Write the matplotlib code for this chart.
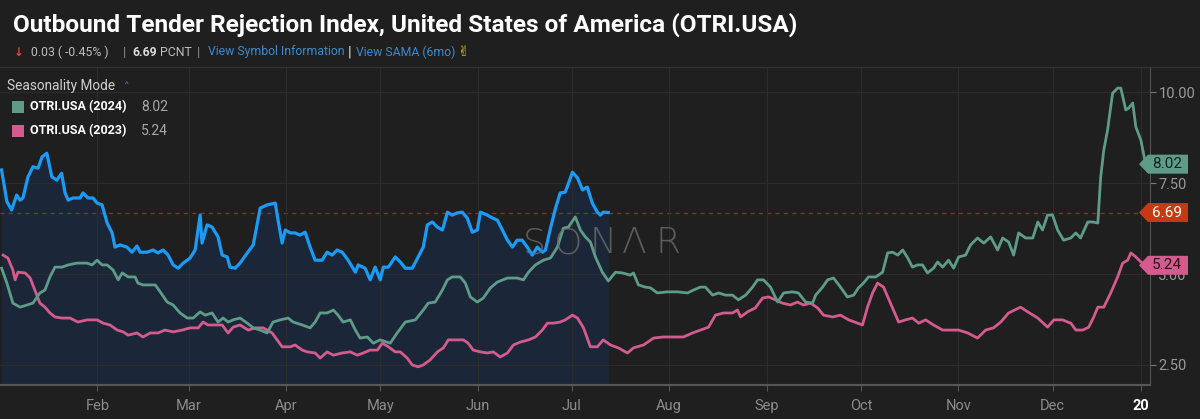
import matplotlib
matplotlib.use("Agg")
import matplotlib.pyplot as plt
from matplotlib import transforms
from matplotlib.patches import Polygon

# ---------------- data (day of year, value) ----------------
cur_days = [0.5, 2.2, 3.7, 5.3, 6.4, 7.3, 8.9, 10.5, 12.1, 13.4, 14.9, 16.5, 18.1, 19.6, 20.7, 21.7,
            23.2, 25.5, 26.4, 28.0, 29.6, 30.9, 32.5, 34.1, 35.7, 36.6, 38.2, 40.4, 42.0, 43.6, 44.6,
            46.8, 48.7, 50.3, 51.9, 53.5, 55.1, 56.7, 58.3, 60.5, 62.1, 63.7, 64.3, 65.9, 67.5, 69.4,
            70.7, 72.3, 73.2, 74.8, 76.4, 78.7, 80.6, 82.8, 85.0, 87.6, 88.5, 89.8, 90.8, 92.4, 93.9,
            95.5, 97.1, 98.7, 100.3, 102.5, 104.1, 105.7, 107.3, 108.9, 110.8, 113.1, 114.0, 116.2,
            117.8, 119.4, 121.0, 122.0, 123.6, 125.8, 127.4, 129.0, 131.2, 133.1, 134.7, 136.0, 137.6,
            139.2, 140.8, 142.4, 143.9, 145.5, 147.1, 148.7, 150.3, 151.9, 152.9, 155.1, 156.7, 158.3,
            159.9, 161.5, 163.1, 164.6, 166.2, 167.8, 169.4, 171.0, 172.6, 173.6, 175.2, 176.8, 178.3,
            179.9, 182.2, 183.8, 185.4, 186.9, 188.5, 190.1, 191.1, 192.0, 193.6]
cur_vals = [7.86, 6.99, 6.76, 7.17, 7.03, 7.09, 7.67, 7.95, 7.91, 8.22, 8.32, 7.67, 7.58, 7.77, 7.23, 7.03,
            7.09, 7.09, 7.23, 7.09, 7.09, 6.95, 6.90, 6.40, 6.13, 5.74, 5.80, 5.74, 5.60, 5.77, 5.60,
            5.60, 5.66, 5.58, 5.66, 5.52, 5.25, 5.16, 5.30, 5.44, 5.66, 6.62, 5.85, 6.35, 6.29, 6.02,
            5.52, 5.47, 5.19, 5.16, 5.30, 5.58, 5.80, 6.81, 6.90, 6.95, 6.48, 5.85, 6.21, 6.13, 6.13,
            6.07, 6.15, 5.74, 5.38, 5.38, 5.60, 5.52, 5.66, 5.60, 5.38, 5.05, 5.25, 5.16,
            4.84, 5.19, 4.84, 5.19, 5.19, 5.47, 5.33, 5.16, 5.16, 5.47, 5.74, 6.35, 6.43,
            6.29, 6.21, 6.70, 6.62, 6.68, 6.70, 6.54, 6.15, 6.21, 6.70, 6.62, 6.54, 6.48,
            6.21, 5.93, 5.74, 5.93, 5.93, 5.74, 5.52, 5.74, 5.60, 5.66, 6.26, 6.81, 7.23,
            7.25, 7.80, 7.64, 7.31, 7.39, 6.95, 6.70, 6.62, 6.70, 6.69]

y2024_days = [0.5, 2.2, 4.1, 6.4, 8.6, 10.5, 12.7, 14.3, 15.9, 17.5, 19.7, 21.7, 24.5, 27.7, 29.3, 30.9,
              32.5, 34.1, 36.0, 37.6, 38.9, 40.8, 43.0, 43.9, 45.5, 47.1, 49.4, 51.0, 53.2, 55.1, 57.3,
              59.6, 61.5, 63.7, 65.3, 67.5, 69.4, 71.0, 72.6, 74.2, 76.4, 78.7, 80.6, 82.8, 85.0, 86.9,
              89.2, 91.7, 93.3, 96.2, 98.7, 100.3, 101.9, 104.1, 106.1, 107.6, 109.2, 111.5, 113.1,
              114.6, 116.9, 118.8, 121.0, 124.2, 126.4, 129.0, 132.2, 134.7, 136.3, 138.5, 140.8,
              142.4, 143.9, 146.5, 148.1, 149.7, 151.9, 153.8, 156.1, 158.3, 161.5, 164.6, 166.6,
              168.2, 170.4, 172.9, 175.2, 177.4, 179.3, 180.9, 183.1, 184.7, 186.3, 187.9, 189.5,
              191.7, 193.6, 195.9, 198.1, 200.6, 201.6, 203.2, 205.4, 207.0, 209.2, 212.4, 215.6,
              218.8, 220.7, 222.9, 224.5, 226.8, 228.7, 230.9, 233.1, 235.0, 237.3, 239.5, 241.1,
              243.0, 245.2, 247.5, 249.4, 252.2, 254.1, 256.4, 258.6, 259.6, 261.8, 263.4, 265.3,
              267.5, 269.7, 271.7, 273.2, 274.8, 276.4, 278.7, 280.9, 282.5, 284.1, 285.7, 287.3,
              288.9, 290.4, 292.0, 293.6, 295.2, 297.1, 298.4, 300.0, 301.9, 303.5, 305.1, 307.3,
              308.9, 311.1, 313.1, 315.3, 317.5, 319.1, 321.0, 322.6, 324.2, 326.4, 328.7, 330.3,
              331.8, 333.4, 335.0, 336.6, 338.5, 340.8, 342.4, 343.9, 346.2, 347.8, 349.4, 350.3,
              351.3, 352.5, 354.1, 355.7, 356.7, 358.3, 359.2, 360.5, 361.5, 363.1, 364.6]
y2024_vals = [5.16, 4.75, 4.20, 4.09, 4.15, 4.20, 4.48, 4.56, 4.92, 5.19, 5.19, 5.25, 5.30, 5.30, 5.25, 5.38,
              5.25, 5.25, 5.11, 4.84, 5.03, 4.92, 4.92, 4.75, 4.70, 4.70, 4.70, 4.51, 4.23, 4.15, 3.93,
              3.79, 3.79, 3.96, 3.87, 3.93, 3.68, 3.79, 3.68, 3.74, 3.79, 3.65, 3.52, 3.46, 3.38, 3.68,
              3.74, 3.79, 3.68, 3.60, 3.52, 3.68, 3.93, 3.93, 4.01, 3.87, 3.68, 3.74, 3.46,
              3.24, 3.27, 3.10, 3.19, 3.10, 3.38, 3.68, 3.74, 4.01, 4.20, 4.23, 4.56,
              4.84, 4.92, 4.92, 4.75, 4.37, 4.23, 4.34, 4.62, 4.78, 4.89, 4.89, 4.84,
              5.05, 5.25, 5.38, 5.44, 5.74, 6.26, 6.29, 6.57, 6.21, 6.02, 5.88, 5.47,
              5.05, 4.81, 5.05, 5.03, 4.97, 5.03, 4.70, 4.64, 4.62, 4.48, 4.51, 4.51,
              4.48, 4.56, 4.64, 4.64, 4.42, 4.48, 4.42, 4.42, 4.29, 4.42, 4.64, 4.84,
              4.84, 4.64, 4.23, 4.48, 4.51, 4.48, 4.23, 4.20, 4.42, 4.64, 4.84, 4.89,
              4.64, 4.37, 4.42, 4.62, 4.75, 4.92, 4.92, 5.05, 5.58, 5.60, 5.52, 5.66,
              5.44, 5.19, 5.25, 5.25, 5.03, 5.16, 5.33, 5.19, 5.38, 5.16, 5.47, 5.52,
              5.80, 5.99, 5.85, 6.02, 5.66, 5.99, 5.88, 5.52, 6.13, 5.99, 5.99, 6.43,
              6.21, 6.62, 6.62, 6.21, 5.93, 5.99, 6.13, 5.99, 6.43, 6.43, 6.40, 7.66,
              8.41, 8.96, 9.97, 10.11, 10.11, 9.51, 9.56, 9.70, 9.04, 8.68, 8.02]

y2023_days = [1.0, 2.5, 4.1, 4.8, 5.7, 8.0, 9.6, 11.1, 12.7, 14.3, 15.9, 17.5, 19.7, 22.3, 24.8, 27.7,
              30.9, 32.8, 35.0, 37.3, 39.2, 40.8, 43.6, 45.5, 47.8, 50.3, 52.5, 55.1, 58.0, 60.5, 63.1,
              64.6, 66.2, 68.5, 70.7, 72.6, 74.2, 76.4, 79.0, 81.2, 83.8, 86.6, 88.2, 89.8, 92.4, 93.9,
              96.2, 97.8, 100.3, 101.9, 104.1, 106.1, 108.9, 111.5, 113.7, 115.6, 117.8, 120.1, 121.7,
              123.6, 125.8, 127.4, 129.6, 131.2, 133.1, 134.7, 136.9, 139.2, 141.1, 142.7, 144.9,
              147.5, 149.0, 150.6, 152.9, 155.1, 157.0, 159.2, 161.5, 163.4, 165.6, 168.2, 170.4,
              172.6, 174.2, 176.1, 178.3, 179.9, 182.2, 183.8, 185.7, 187.9, 190.1, 192.0, 194.3,
              196.8, 199.7, 201.6, 204.8, 208.0, 211.1, 214.3, 217.5, 220.4, 222.9, 225.5, 227.7,
              230.3, 233.1, 234.7, 235.7, 237.9, 240.4, 242.7, 244.6, 246.8, 249.0, 251.6, 253.8,
              255.7, 258.0, 260.2, 262.1, 265.0, 267.5, 270.1, 272.9, 274.5, 276.1, 277.7, 279.3,
              281.2, 283.4, 286.0, 288.2, 290.4, 292.4, 294.6, 297.1, 300.0, 302.5, 305.1, 308.0,
              311.1, 313.7, 316.2, 318.5, 321.0, 324.8, 327.1, 330.3, 333.4, 335.4, 338.2, 339.8,
              340.8, 342.4, 344.6, 346.5, 348.1, 349.4, 351.3, 353.5, 355.7, 357.3, 358.9, 359.9,
              361.5, 363.1, 364.6]
y2023_vals = [5.52, 5.44, 5.11, 4.84, 5.05, 5.03, 4.89, 4.56, 4.20, 4.09, 3.93, 3.82, 3.79, 3.79, 3.68, 3.74,
              3.74, 3.65, 3.60, 3.46, 3.41, 3.32, 3.38, 3.27, 3.38, 3.38, 3.46, 3.41, 3.46, 3.52, 3.52,
              3.68, 3.60, 3.60, 3.60, 3.38, 3.54, 3.60, 3.46, 3.52, 3.52, 3.38, 3.19, 3.00, 3.00, 3.05,
              2.91, 2.86, 2.83, 2.69, 2.86, 2.77, 2.83, 2.86, 2.77, 2.83, 2.91, 2.91, 3.10,
              3.00, 2.86, 2.86, 2.69, 2.50, 2.45, 2.50, 2.64, 2.86, 2.97, 3.19, 3.19,
              3.19, 3.10, 2.91, 2.86, 2.83, 2.86, 2.72, 2.83, 3.05, 3.13, 3.19, 3.27,
              3.46, 3.65, 3.65, 3.68, 3.74, 3.87, 3.79, 3.52, 3.00, 3.00, 3.19, 3.05,
              2.97, 2.83, 2.97, 3.05, 3.24, 3.27, 3.27, 3.27, 3.38, 3.46, 3.54, 3.87,
              3.93, 3.93, 4.01, 3.82, 3.96, 4.07, 4.34, 4.37, 4.29, 4.20, 4.15, 4.23,
              4.15, 4.20, 4.07, 3.87, 3.82, 3.87, 3.74, 3.65, 3.60, 4.09, 4.48, 4.75,
              4.64, 4.20, 3.68, 3.74, 3.79, 3.65, 3.74, 3.60, 3.46, 3.46, 3.46, 3.38,
              3.24, 3.46, 3.52, 3.68, 3.93, 4.09, 3.96, 3.79, 3.54, 3.74, 3.74, 3.68,
              3.65, 3.46, 3.46, 3.54, 3.82, 4.09, 4.09, 4.48, 4.92, 5.30, 5.38, 5.58,
              5.47, 5.33, 5.24]

month_ticks = [31, 60, 91, 121, 152, 182, 213, 244, 274, 305, 335, 363]
month_labels = ["Feb", "Mar", "Apr", "May", "Jun", "Jul", "Aug", "Sep", "Oct", "Nov", "Dec", "20"]
y_ticks = [2.5, 5.0, 7.5, 10.0]
y_labels = ["2.50", "5.00", "7.50", "10.00"]
last_cur, last_2024, last_2023 = 6.69, 8.02, 5.24

# ---------------- styling ----------------
BG = "#1f1f1f"
BLUE = "#1a9bf5"
GREEN = "#5e9c89"
PINK = "#d45b8d"
FILL = "#1b2738"
RED = "#c53a12"
GRID = "#2c2c2c"
W, H = 1200, 419
plt.rcParams["font.family"] = ["Roboto", "DejaVu Sans"]

fig = plt.figure(figsize=(W / 100, H / 100), dpi=100)
fig.patch.set_facecolor(BG)

def fx(px):
    return px / W

def fy(py):
    return 1 - py / H

ax = fig.add_axes([0, fy(385), fx(1150), (385 - 67) / H])
ax.set_facecolor(BG)
ax.set_xlim(0, 366)
ax.set_ylim(1.95, 10.69)

ax.fill_between(cur_days, cur_vals, 1.95, color=FILL, lw=0, zorder=1)
ax.axhline(last_cur, color="#7d3526", lw=1.0, ls=(0, (3, 3)), zorder=1.5)
ax.plot(y2023_days, y2023_vals, color=PINK, lw=2.0, zorder=3, solid_joinstyle="round")
ax.plot(y2024_days, y2024_vals, color=GREEN, lw=2.0, zorder=3, solid_joinstyle="round")
ax.plot(cur_days, cur_vals, color=BLUE, lw=2.3, zorder=4, solid_joinstyle="round")

ax.set_xticks(month_ticks)
ax.set_xticklabels(month_labels)
ax.set_yticks(y_ticks)
ax.set_yticklabels(y_labels)
ax.yaxis.tick_right()
ax.tick_params(axis="x", colors="#555555", labelcolor="#8c8c8c", labelsize=10.5, length=4, pad=6)
ax.tick_params(axis="y", colors="#777777", labelcolor="#9a9a9a", labelsize=10.5, length=4, pad=2)
lbl = ax.get_xticklabels()[-1]
lbl.set_color("white")
lbl.set_fontweight("bold")
ax.grid(True, color=GRID, lw=0.8, zorder=0)
for s in ["left", "top"]:
    ax.spines[s].set_visible(False)
ax.spines["right"].set_color("#555555")
ax.spines["bottom"].set_color("#555555")
ax.spines["bottom"].set_linewidth(1.5)

# watermark
for ch, px in zip(["S", "O", "N", "\u039b", "R"], [534, 568, 603, 634, 668]):
    fig.text(fx(px), fy(243), ch, color="#6c6c6c", fontsize=26, fontweight="light",
             family=["DejaVu Sans"], ha="center", va="center", alpha=0.8, zorder=5)

# value tags on the right
tr = transforms.blended_transform_factory(fig.transFigure, ax.transData)
hh = 9.5 / 36.4
for val, face, tcol in [(last_2024, GREEN, "#14231f"), (last_cur, RED, "white"), (last_2023, PINK, "#2a0f1a")]:
    poly = Polygon([(fx(1139), val), (fx(1148), val + hh), (fx(1188), val + hh),
                    (fx(1188), val - hh), (fx(1148), val - hh)], closed=True,
                   facecolor=face, edgecolor="none", transform=tr, zorder=10)
    fig.add_artist(poly)
    fig.text(fx(1167), val, f"{val:.2f}", transform=tr, color=tcol, fontsize=11,
             ha="center", va="center", zorder=11)

# header
fig.text(fx(13), fy(25), "Outbound Tender Rejection Index, United States of America (OTRI.USA)",
         color="white", fontsize=17.6, fontweight="bold", ha="left", va="center")
fig.add_artist(plt.Line2D([0, 1], [fy(67), fy(67)], transform=fig.transFigure, color="#333333", lw=1))
sy = fy(52)
fig.text(fx(14), sy, "\u2193", color="#e0453a", fontsize=8.5, fontweight="bold", ha="left", va="center")
fig.text(fx(31), sy, "0.03 ( -0.45% )", color="#bdbdbd", fontsize=8.8, ha="left", va="center")
fig.text(fx(124), sy, "|", color="#888888", fontsize=9.5, ha="center", va="center")
fig.text(fx(132), sy, "6.69", color="#dddddd", fontsize=8.8, fontweight="bold", ha="left", va="center")
fig.text(fx(160), sy, "PCNT", color="#bdbdbd", fontsize=8.8, ha="left", va="center")
fig.text(fx(199), sy, "|", color="#888888", fontsize=9.5, ha="center", va="center")
fig.text(fx(208), sy, "View Symbol Information", color="#3b8ad0", fontsize=8.8, ha="left", va="center")
fig.text(fx(350), sy, "|", color="#dddddd", fontsize=11, ha="center", va="center")
fig.text(fx(356), sy, "View SAMA (6mo)", color="#3b8ad0", fontsize=8.8, ha="left", va="center")
fig.text(fx(457), sy, "\u270c", color="#e8c51a", fontsize=10, family=["DejaVu Sans"],
         ha="left", va="center")

# legend
fig.text(fx(7), fy(86), "Seasonality Mode", color="#cfcfcf", fontsize=9.8, ha="left", va="center")
fig.text(fx(124), fy(87), "\u02c4", color="#3b8ad0", fontsize=8, family=["DejaVu Sans"],
         ha="left", va="center")
for yy, col, name, v in [(107, GREEN, "OTRI.USA (2024)", last_2024), (131, PINK, "OTRI.USA (2023)", last_2023)]:
    fig.patches.append(plt.Rectangle((fx(12), fy(yy + 6)), fx(12), 12 / H, transform=fig.transFigure,
                                     facecolor=col, edgecolor="none", figure=fig))
    fig.text(fx(30), fy(yy), name, color="white", fontsize=9.0, fontweight="bold", ha="left", va="center")
    fig.text(fx(141), fy(yy), f"{v:.2f}", color="#a8a8a8", fontsize=10, ha="left", va="center")

fig.savefig("out.png", dpi=100, facecolor=BG)
